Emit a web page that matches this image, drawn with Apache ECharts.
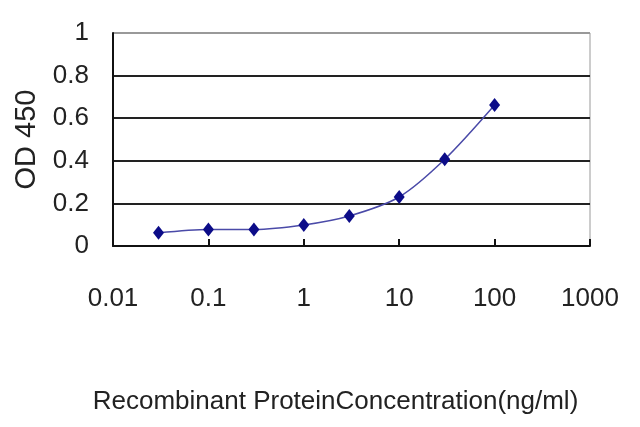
<!DOCTYPE html>
<html>
<head>
<meta charset="utf-8">
<script src="https://cdn.jsdelivr.net/npm/echarts@6/dist/echarts.min.js"></script>
<style>
  html, body { margin: 0; padding: 0; background: #fff; }
  #chart { width: 640px; height: 427px; }
</style>
</head>
<body>
<div id="chart"></div>
<script>
// concentrations (ng/ml) and measured OD 450
let concentrations = [0.03, 0.1, 0.3, 1, 3, 10, 30, 100];
let odValues = [0.062, 0.078, 0.078, 0.099, 0.141, 0.23, 0.407, 0.662];
let xName = 'Recombinant ProteinConcentration(ng/ml)';
let yName = 'OD 450';

let points = [];
for (let i = 0; i < concentrations.length; i++) {
    points[i] = [concentrations[i], odValues[i]];
}

let font = 'Liberation Sans, Arial, sans-serif';
let option = {
    animation: false,
    grid: {
        left: 113, right: 50, top: 33, bottom: 181,
        show: true, borderColor: '#999', borderWidth: 1
    },
    xAxis: {
        type: 'log',
        logBase: 10,
        min: 0.01,
        max: 1000,
        name: xName,
        nameLocation: 'middle',
        nameGap: 143,
        nameTextStyle: { fontFamily: font, fontSize: 26, color: '#222', padding: [0, 32, 0, 0] },
        axisLine: { lineStyle: { color: '#111', width: 2 } },
        axisTick: { inside: true, length: 7, lineStyle: { color: '#111', width: 2 } },
        axisLabel: {
            margin: 40, fontFamily: font, fontSize: 26, color: '#222',
            formatter: function (v) { return String(v); }
        },
        splitLine: { show: false }
    },
    yAxis: {
        type: 'value',
        min: 0,
        max: 1,
        interval: 0.2,
        name: yName,
        nameLocation: 'middle',
        nameRotate: 90,
        nameGap: 72,
        nameTextStyle: { fontFamily: font, fontSize: 29, color: '#222' },
        axisLine: { show: true, lineStyle: { color: '#111', width: 2 } },
        axisTick: { show: false },
        axisLabel: { margin: 24, fontFamily: font, fontSize: 26, color: '#222' },
        splitLine: {
            lineStyle: { color: ['#222', '#222', '#222', '#222', '#222', '#999'], width: 2 }
        }
    },
    series: [{
        type: 'line',
        data: points,
        smooth: 0.3,
        symbol: 'diamond',
        symbolSize: [11, 14],
        lineStyle: { color: '#4a4aa8', width: 1.5 },
        itemStyle: { color: '#0c0c88' }
    }]
};

let mychart = echarts.init(document.getElementById('chart'));
mychart.setOption(option);
</script>
</body>
</html>
